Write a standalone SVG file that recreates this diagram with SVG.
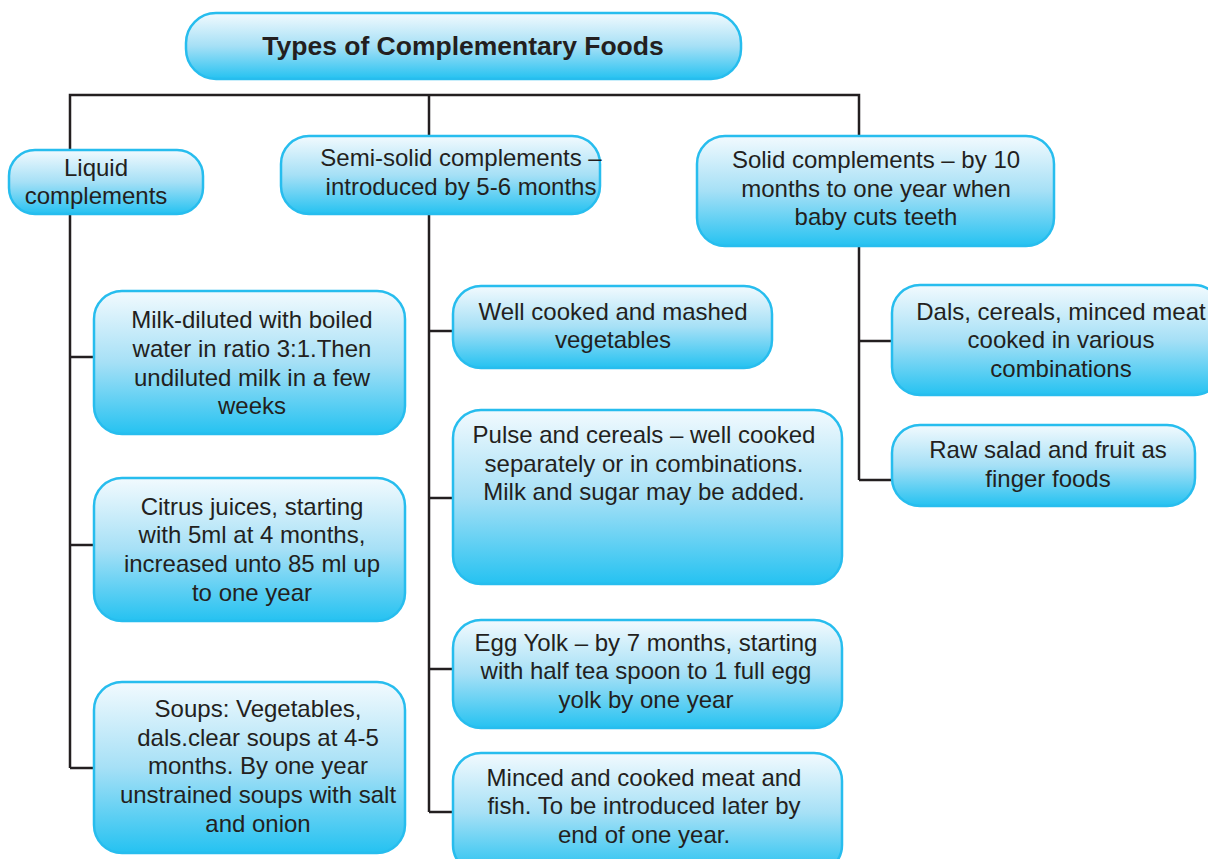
<svg xmlns="http://www.w3.org/2000/svg" width="1208" height="859" viewBox="0 0 1208 859">
<defs>
<linearGradient id="g" x1="0" y1="0" x2="0" y2="1">
<stop offset="0" stop-color="#f2fafe"/>
<stop offset="0.5" stop-color="#a6e0f6"/>
<stop offset="1" stop-color="#25c2f1"/>
</linearGradient>
<style>
.box{fill:url(#g);stroke:#27bdee;stroke-width:2.5}
.t{font-family:"Liberation Sans",Arial,sans-serif;font-size:24px;fill:#231f20;text-anchor:middle}
.h{font-family:"Liberation Sans",Arial,sans-serif;font-size:26.5px;font-weight:bold;fill:#231f20;text-anchor:middle}
.ln{fill:none;stroke:#231f20;stroke-width:2.5}
</style>
</defs>
<rect width="1208" height="859" fill="#fff"/>
<g id="connectors" class="ln">
<polyline points="70,150 70,95 859,95 859,136"/>
<line x1="429" y1="95" x2="429" y2="136"/>
<line x1="70" y1="214" x2="70" y2="768"/>
<line x1="70" y1="357" x2="95" y2="357"/>
<line x1="70" y1="545" x2="95" y2="545"/>
<line x1="70" y1="768" x2="95" y2="768"/>
<line x1="429" y1="214" x2="429" y2="812"/>
<line x1="429" y1="331" x2="454" y2="331"/>
<line x1="429" y1="498" x2="454" y2="498"/>
<line x1="429" y1="669" x2="454" y2="669"/>
<line x1="429" y1="812" x2="454" y2="812"/>
<line x1="859" y1="246" x2="859" y2="480"/>
<line x1="859" y1="341" x2="893" y2="341"/>
<line x1="859" y1="480" x2="893" y2="480"/>
</g>
<g id="title">
<rect class="box" x="186" y="13" width="555" height="66" rx="30"/>
<text class="h" x="463" y="55">Types of Complementary Foods</text>
</g>
<g id="liquid">
<rect class="box" x="9" y="150" width="194" height="64" rx="26"/>
<text class="t" x="96" y="176">Liquid</text>
<text class="t" x="96" y="204">complements</text>
</g>
<g id="semisolid">
<rect class="box" x="281" y="136" width="319" height="78" rx="28"/>
<text class="t" x="461" y="166">Semi-solid complements –</text>
<text class="t" x="461" y="195">introduced by 5-6 months</text>
</g>
<g id="solid">
<rect class="box" x="697" y="136" width="357" height="110" rx="28"/>
<text class="t" x="876" y="168">Solid complements – by 10</text>
<text class="t" x="876" y="197">months to one year when</text>
<text class="t" x="876" y="225">baby cuts teeth</text>
</g>
<g id="milk">
<rect class="box" x="94" y="291" width="311" height="143" rx="28"/>
<text class="t" x="252" y="328">Milk-diluted with boiled</text>
<text class="t" x="252" y="357">water in ratio 3:1.Then</text>
<text class="t" x="252" y="386">undiluted milk in a few</text>
<text class="t" x="252" y="414">weeks</text>
</g>
<g id="citrus">
<rect class="box" x="94" y="478" width="311" height="143" rx="28"/>
<text class="t" x="252" y="515">Citrus juices, starting</text>
<text class="t" x="252" y="543">with 5ml at 4 months,</text>
<text class="t" x="252" y="572">increased unto 85 ml up</text>
<text class="t" x="252" y="601">to one year</text>
</g>
<g id="soups">
<rect class="box" x="94" y="682" width="311" height="171" rx="28"/>
<text class="t" x="258" y="717">Soups: Vegetables,</text>
<text class="t" x="258" y="746">dals.clear soups at 4-5</text>
<text class="t" x="258" y="774">months. By one year</text>
<text class="t" x="258" y="803">unstrained soups with salt</text>
<text class="t" x="258" y="832">and onion</text>
</g>
<g id="vegetables">
<rect class="box" x="453" y="286" width="319" height="82" rx="28"/>
<text class="t" x="613" y="320">Well cooked and mashed</text>
<text class="t" x="613" y="348">vegetables</text>
</g>
<g id="pulse">
<rect class="box" x="453" y="410" width="389" height="174" rx="28"/>
<text class="t" x="644" y="443">Pulse and cereals – well cooked</text>
<text class="t" x="644" y="472">separately or in combinations.</text>
<text class="t" x="644" y="500">Milk and sugar may be added.</text>
</g>
<g id="egg">
<rect class="box" x="453" y="620" width="389" height="108" rx="28"/>
<text class="t" x="646" y="651">Egg Yolk – by 7 months, starting</text>
<text class="t" x="646" y="679">with half tea spoon to 1 full egg</text>
<text class="t" x="646" y="708">yolk by one year</text>
</g>
<g id="meat">
<rect class="box" x="453" y="753" width="389" height="120" rx="28"/>
<text class="t" x="644" y="786">Minced and cooked meat and</text>
<text class="t" x="644" y="814">fish. To be introduced later by</text>
<text class="t" x="644" y="843">end of one year.</text>
</g>
<g id="dals">
<rect class="box" x="892" y="285" width="330" height="110" rx="28"/>
<text class="t" x="1061" y="320">Dals, cereals, minced meat</text>
<text class="t" x="1061" y="348">cooked in various</text>
<text class="t" x="1061" y="377">combinations</text>
</g>
<g id="raw">
<rect class="box" x="892" y="425" width="303" height="81" rx="28"/>
<text class="t" x="1048" y="458">Raw salad and fruit as</text>
<text class="t" x="1048" y="487">finger foods</text>
</g>
</svg>
